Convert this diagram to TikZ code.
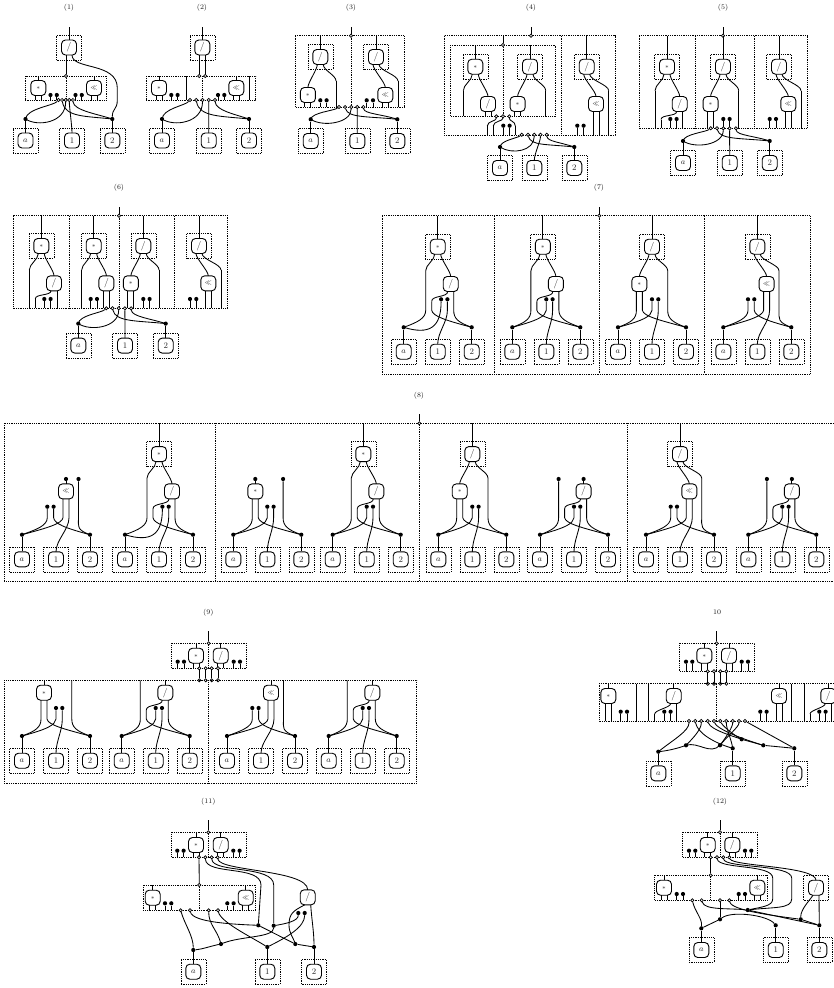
\documentclass[tikz,border=0pt]{standalone}
\usetikzlibrary{calc}
\tikzset{
 wire/.style={draw=black,line width=.85pt},
 pan/.style={draw=black,line width=.6pt,dash pattern=on .9pt off .9pt},
 dbox/.style={pan,shape=rectangle,minimum size=25pt,inner sep=0pt},
 fn/.style={draw=black,line width=.9pt,shape=rectangle,rounded corners=4pt,minimum size=15pt,inner sep=0pt,text=black!85,font=\fontsize{8.5}{9}\selectfont},
 blk/.style={shape=circle,fill=black,draw=none,minimum size=4.2pt,inner sep=0pt},
 opn/.style={shape=circle,fill=white,draw=black,line width=.7pt,minimum size=3.2pt,inner sep=0pt},
 ttl/.style={font=\fontsize{7}{8}\selectfont,text=black!90},
 topend/.style={blk}
}
\newcounter{ttlno}
\newcommand\Lm{{\fontsize{6}{7}\selectfont$*$}}
\newcommand\Ld{{\fontsize{9.5}{10}\selectfont /}}
\newcommand\Ls{{\fontsize{6}{7}\selectfont$\ll$}}
\newcommand\zFn[4]{\node[fn] (#1) at (#2,#3) {#4};
 \coordinate (#1l) at (#2-3,#3+7.5); \coordinate (#1r) at (#2+3,#3+7.5); \coordinate (#1t) at (#2,#3-7.5);}
\newcommand\zDFn[4]{\zFn{#1}{#2}{#3}{#4}\node[dbox] (#1d) at (#2,#3) {};}
\newcommand\zBlk[3]{\node[blk] (#1) at (#2,#3) {};}
\newcommand\zOpn[3]{\node[opn] (#1) at (#2,#3) {};}
\newcommand\zS[3]{\draw[wire] (#1) .. controls +(0,#3) and +(0,-#3) .. (#2);}
\newcommand\zV[2]{\draw[wire] (#1) -- (#2);}
\newcommand\zPanel[4]{\draw[pan] (#1,#2) rectangle (#3,#4);}
\newcommand\zDiv[3]{\draw[pan] (#1,#2) -- (#1,#3);}
\newcommand\zTitle[3]{\stepcounter{ttlno}\node[ttl] (ttl\arabic{ttlno}) at (#1,#2) {#3};}
% top terminal: open dot on a panel edge and free wire above it
\newcommand\zHead[3]{\coordinate (hd) at (#1,#3); \zOpn{ho}{#1}{#2}\zV{hd}{ho}}
\newcommand\zTopIn[2]{\coordinate (tt) at (#1,\vT); \zV{tt}{#2}}
\newcommand\zPair[1]{\zBlk{q1}{#1}{\vD}\zBlk{q2}{#1+6.3}{\vD}\coordinate (q1e) at (#1,\vB);\coordinate (q2e) at (#1+6.3,\vB);\zV{q1}{q1e}\zV{q2}{q2e}}
\newcommand\zStem[2]{\coordinate (s1) at (#2,\vA+24); \coordinate (s2) at (#2,\vB); \zS{#1}{s1}{6}\zV{s1}{s2}}
\newcommand\zOut[2]{\coordinate (oe) at (#2,\vB); \zV{#1}{oe}}
\newcommand\zFull[1]{\coordinate (fa) at (#1,\vT);\coordinate (fb) at (#1,\vB);\zV{fa}{fb}}
% box inside a panel: input to panel top, two outputs to panel bottom
\newcommand\zIn[3]{\zFn{w}{#1}{#2}{#3}\zTopIn{#1}{wt}\zOut{wl}{#1-3}\zOut{wr}{#1+3}}
\newcommand\zBent[3]{\zFn{w}{#1}{#2}{\Ld}\zTopIn{#1}{wt}\coordinate (b1) at (#3,\vB-7);\coordinate (b2) at (#3,\vB);\zS{wl}{b1}{4}\zV{b1}{b2}\zOut{wr}{#1+3}}
% panel terms
\newcommand\zMDhead[1]{\zDFn{u}{#1}{\vA}{\Lm}\zTopIn{#1}{ut}\zStem{ul}{#1-12}\zFn{v}{#1+12.7}{\vC}{\Ld}\zS{ur}{vt}{5}}
\newcommand\zMDb[1]{\zMDhead{#1}\coordinate (e1) at (#1-6,\vC+15.5);\coordinate (e2) at (#1-6,\vB);\zS{vl}{e1}{5}\zV{e1}{e2}\zOut{vr}{#1+15.7}}
\newcommand\zMDs[1]{\zMDhead{#1}\zOut{vl}{#1+9.7}\zOut{vr}{#1+15.7}}
\newcommand\zDM[1]{\zDFn{u}{#1}{\vA}{\Ld}\zTopIn{#1}{ut}\zFn{v}{#1-12.4}{\vC}{\Lm}\zS{ul}{vt}{5}\zStem{ur}{#1+15.7}\zOut{vl}{#1-15.4}\zOut{vr}{#1-9.4}}
\newcommand\zDS[1]{\zDFn{u}{#1}{\vA}{\Ld}\zTopIn{#1}{ut}\zFn{v}{#1+9.3}{\vC}{\Ls}\zS{ul}{vt}{5}\zStem{ur}{#1+22}\zOut{vl}{#1+6.3}\zOut{vr}{#1+12.3}}
% crossing of a, 1, 2 under a panel
\newcommand\zCross[8]{%
 \zOpn{d1}{#1}{#3}\zOpn{d2}{#1+#2}{#3}\zOpn{d3}{#1+2*#2}{#3}\zOpn{d4}{#1+3*#2}{#3}\zOpn{d5}{#1+4*#2}{#3}
 \zBlk{A}{#4}{#3+#7}\zBlk{B}{#5}{#3+#7}
 \zDFn{ka}{#4}{#3+#7+#8}{$a$}\zDFn{kb}{#6}{#3+#7+#8}{1}\zDFn{kc}{#5}{#3+#7+#8}{2}
 \zV{A}{ka}\zV{B}{kc}\zS{d4}{kbt}{7}
 \draw[wire] (A.center) .. controls +(1,-.55*#7) and +(-5,.3*#7) .. (d1);
 \draw[wire] (d3) .. controls +(0,#7+4) and +(12,8) .. (A.center);
 \draw[wire] (d2) .. controls +(3,.9*#7) and +(-28,-3) .. (B.center);
 \draw[wire] (d5) .. controls +(1,.55*#7) and +(-15,-5) .. (B.center);
}
% full terms over a, 1, 2
\newcommand\zSetY[1]{\def\vY{#1}\def\vA{#1-80.6}\def\vC{#1-43.3}\def\vD{#1-28}\def\vU{#1-55.7}}
\newcommand\zTrio[1]{\zBlk{A}{#1-34}{\vY}\zBlk{B}{#1+34}{\vY}
 \zDFn{ka}{#1-34}{\vY+\vK}{$a$}\zDFn{kb}{#1}{\vY+\vK}{1}\zDFn{kc}{#1+34}{\vY+\vK}{2}
 \zV{A}{ka}\zV{B}{kc}\coordinate (bd) at (0,\vY-17);}
\newcommand\zFan{%
 \draw[wire] (p1) -- (p1 |- bd) .. controls +(0,8) and +(14,-5) .. (A.center);
 \draw[wire] (p2) -- (p2 |- bd) .. controls +(1,6) and +(-26,-7) .. (B.center);
 \draw[wire] (p4) -- (p4 |- bd) .. controls +(0,12) and +(0,-12) .. (kbt);
 \draw[wire] (p5) -- (p5 |- bd) .. controls +(0,8) and +(-14,-5) .. (B.center);}
\newcommand\zPthree{\draw[wire] (p3) -- (p3 |- bd) .. controls +(-1,6) and +(26,-7) .. (A.center);}
\newcommand\zSwoop{\draw[wire] (p3) .. controls +(0,28) and +(26,8) .. (A.center);}
\newcommand\zDots[2]{\zBlk{p3}{#1}{\vD}\zBlk{p4}{#2}{\vD}}
\newcommand\zDivOut[1]{\zS{vl}{p2}{6}}
% #1 x of the star box, #2 centre c
\newcommand\zMDfull[2]{\zTrio{#2}\zDFn{u}{#1}{\vA}{\Lm}\zTopIn{#1}{ut}\zFn{v}{#1+13}{\vC}{\Ld}\zS{ur}{vt}{5}
 \coordinate (p1) at (#1-12,\vA+24);\zS{ul}{p1}{6}
 \coordinate (p2) at (#1-6,\vY-26);\zDivOut{}
 \zDots{#1+3.4}{#1+9.7}\coordinate (p5) at (vr);\zFan}
\newcommand\zTa[1]{\zMDfull{#1}{#1}\zSwoop}
\newcommand\zTb[1]{\zMDfull{#1-3.4}{#1}\zPthree}
\newcommand\zTc[1]{\zTrio{#1}\zDFn{u}{#1}{\vA}{\Ld}\zTopIn{#1}{ut}\zFn{v}{#1-12.6}{\vC}{\Lm}\zS{ul}{vt}{5}
 \coordinate (p1) at (vl);\coordinate (p2) at (vr);\zDots{#1}{#1+6.3}
 \coordinate (p5) at (#1+15.7,\vA+24);\zS{ur}{p5}{6}\zFan\zPthree}
\newcommand\zTd[1]{\zTrio{#1}\zDFn{u}{#1}{\vA}{\Ld}\zTopIn{#1}{ut}\zFn{v}{#1+9.3}{\vC}{\Ls}\zS{ul}{vt}{5}
 \coordinate (p5) at (#1+21.7,\vA+24);\zS{ur}{p5}{6}
 \zBlk{p1}{#1-9.3}{\vD}\zBlk{p2}{#1-3}{\vD}\coordinate (p3) at (vl);\coordinate (p4) at (vr);\zFan\zPthree}
\newcommand\zTE[2]{\node[topend] (#1) at (#2,\vU) {};}
\newcommand\zUa[1]{\zTrio{#1}\zFn{v}{#1+10}{\vC}{\Ls}\zTE{te}{#1+10}\zV{te}{vt}\zTE{p5}{#1+22.5}
 \zBlk{p1}{#1-8.7}{\vD}\zBlk{p2}{#1-2.4}{\vD}\coordinate (p3) at (vl);\coordinate (p4) at (vr);\zFan\zPthree}
\newcommand\zUb[1]{\zTrio{#1}\zFn{v}{#1-12}{\vC}{\Lm}\zTE{te}{#1-12}\zV{te}{vt}\zTE{p5}{#1+15.8}
 \coordinate (p1) at (vl);\coordinate (p2) at (vr);\zDots{#1}{#1+6.3}\zFan\zPthree}
\newcommand\zUc[1]{\zTrio{#1}\zFn{v}{#1+9.6}{\vC}{\Ld}\zTE{te}{#1+9.6}\zV{te}{vt}\zTE{p1}{#1-15.4}
 \coordinate (p2) at (#1-9.4,\vY-26);\zDivOut{}\zDots{#1}{#1+6.3}\coordinate (p5) at (vr);\zFan\zPthree}
\begin{document}
\begin{tikzpicture}[x=1pt,y=-1pt]
\useasboundingbox (0,0) rectangle (834,988);
\fill[white] (0,0) rectangle (834,988);
% ---------- (1)
\zTitle{69}{8}{(1)}
\coordinate (tp) at (69,27);\zDFn{f}{69}{47.5}{\Ld}\zV{tp}{ft}
\zPanel{25.3}{76}{106.3}{100}\zDiv{66}{76}{100}
\zOpn{o1}{66}{76}\zV{fl}{o1}
\def\vT{76}\def\vB{100}\def\vD{95}
\zIn{38.3}{88}{\Lm}\zPair{50.5}\zPair{75.5}\zIn{94}{88}{\Ls}
\zCross{58.5}{3.6}{100}{25.5}{112.3}{72}{19}{21.5}
\coordinate (r1) at (117.3,88);\coordinate (r2) at (117.3,100);
\draw[wire] (fr) .. controls (72,70) and (117.3,62) .. (r1) -- (r2) .. controls (117.3,110) and (112.3,108) .. (B);
% ---------- (2)
\zTitle{202}{8}{(2)}
\coordinate (tp) at (202.3,27);\zDFn{f}{202.3}{47.5}{\Ld}\zV{tp}{ft}
\zPanel{146.3}{76}{255.7}{100}\zDiv{202.3}{76}{100}
\zOpn{o1}{199.3}{76}\zOpn{o2}{205.3}{76}\zV{fl}{o1}\zV{fr}{o2}
\zIn{159}{88}{\Lm}\zPair{171.3}\zFull{186.7}\zPair{218}\zIn{236.3}{88}{\Ls}\zFull{249}
\zCross{190}{6.25}{100}{162}{249}{208.7}{19}{21.5}
% ---------- (3)
\zTitle{351}{8}{(3)}
\zPanel{295.3}{35.7}{404.3}{107}\zDiv{351}{35.7}{107}
\zHead{351}{35.7}{27}
\def\vT{35.7}\def\vA{57}\def\vC{95}\def\vB{107}\def\vD{100.3}
\zDM{320.3}\zPair{320.3}\zDS{376}\zPair{366.7}
\zCross{339}{6.1}{107}{310.7}{397.3}{357.3}{12.3}{21.7}
% ---------- (4)
\zTitle{531}{8}{(4)}
\zPanel{444.3}{35.7}{615}{135}\zDiv{561.7}{35.7}{135}
\zPanel{450.3}{45}{555.7}{116.3}\zDiv{503}{45}{116.3}
\zHead{531}{35.7}{27}
\zHead{503}{45}{35.7}
\def\vT{45}\def\vA{66.7}\def\vC{104}\def\vB{116.3}
\zMDs{475.3}\zDM{530}
\zOpn{i1}{496.3}{116.3}\zOpn{i2}{503}{116.3}\zOpn{i3}{509.3}{116.3}
\coordinate (j1) at (487.3,126);\coordinate (j1e) at (487.3,135);
\coordinate (j2) at (493.3,126);\coordinate (j2e) at (493.3,135);
\coordinate (j3) at (515.3,126);\coordinate (j3e) at (515.3,135);
\zS{i1}{j1}{5}\zV{j1}{j1e}\zS{i2}{j2}{5}\zV{j2}{j2e}\zS{i3}{j3}{5}\zV{j3}{j3e}
\def\vB{135}\def\vD{125.7}\zPair{503.3}
\def\vT{35.7}\zDS{586.7}\zPair{577.3}
\zCross{521.7}{6.25}{134.7}{500}{574.3}{534.3}{12.3}{21}
% ---------- (5)
\zTitle{723}{8}{(5)}
\zPanel{639.3}{35.7}{807.3}{128.3}\zDiv{695.3}{35.7}{128.3}\zDiv{754.3}{35.7}{128.3}
\zHead{723}{35.7}{27}
\def\vT{35.7}\def\vA{66.7}\def\vC{104}\def\vB{128.3}\def\vD{119}
\zMDb{667}\zPair{670.3}\zDM{723}\zPair{723.3}\zDS{779}\zPair{769.7}
\zCross{710.7}{6.3}{128.3}{683}{769.7}{729.7}{12.7}{22}
% ---------- (6)
\zTitle{119}{187.5}{(6)}
\zPanel{13.3}{215.7}{227.7}{308.3}\zDiv{69.3}{215.7}{308.3}\zDiv{119}{215.7}{308.3}\zDiv{174.3}{215.7}{308.3}
\zHead{119}{215.7}{207}
\def\vT{215.7}\def\vA{246}\def\vC{283.3}\def\vB{308.3}\def\vD{299}
\zMDb{41.3}\zPair{44.3}\zMDs{93.7}\zPair{90.7}\zDM{143.3}\zPair{143.3}\zDS{199}\zPair{190}
\zCross{106.3}{6.2}{308.3}{78.3}{165.7}{125}{15.3}{22}
% ---------- (7)
\zTitle{599}{187.5}{(7)}
\zPanel{382.3}{215.7}{810.3}{374}\zDiv{494}{215.7}{374}\zDiv{599.3}{215.7}{374}\zDiv{704.7}{215.7}{374}
\zHead{599.3}{215.7}{207}
\def\vT{215.7}\def\vK{24.4}\zSetY{327.3}
\zTa{437.7}\zTb{546.3}\zTc{652}\zTd{757.3}
% ---------- (8)
\zTitle{419}{395.5}{(8)}
\draw[pan] (834,423.3) -- (4,423.3) -- (4,581) -- (834,581);
\zDiv{215}{423.3}{581}\zDiv{419.3}{423.3}{581}\zDiv{627}{423.3}{581}
\zHead{419.3}{423.3}{414}
\def\vT{423.3}\def\vK{24.6}\zSetY{534.7}
\zUa{56}\zTa{159}\zUb{267.3}\zTb{366.7}\zTc{472.3}\zUc{574}\zTd{680}\zUc{782.3}
% ---------- (9)
\zTitle{208.3}{612.7}{(9)}
\zPanel{171.3}{643.3}{246.3}{668.3}\zDiv{208.7}{643.3}{668.3}
\zHead{208.7}{643.3}{631}
\def\vT{643.3}\def\vB{668.3}\def\vD{661.7}
\zIn{196}{655.7}{\Lm}\zIn{220.7}{655.7}{\Ld}\zPair{177.7}\zPair{233.7}
\zOpn{g1}{199.3}{668.3}\zOpn{g2}{205.7}{668.3}\zOpn{g3}{211.7}{668.3}\zOpn{g4}{218}{668.3}
\zOpn{h1}{199.3}{680.3}\zOpn{h2}{205.7}{680.3}\zOpn{h3}{211.7}{680.3}\zOpn{h4}{218}{680.3}
\zV{g1}{h1}\zV{g2}{h2}\zV{g3}{h3}\zV{g4}{h4}
\zPanel{4}{680.3}{416.7}{783}\zDiv{208.7}{680.3}{783}
\tikzset{topend/.style={shape=coordinate}}
\def\vT{680.3}\def\vK{24.7}\zSetY{736}\def\vU{680.3}
\zUb{56}\zUc{155.7}\zUa{261}\zUc{362.7}
% ---------- 10
\zTitle{717}{612.3}{10}
\zPanel{679.3}{643.3}{754.7}{671.3}\zDiv{716.7}{643.3}{671.3}
\zHead{716.7}{643.3}{631}
\def\vT{643.3}\def\vB{671.3}\def\vD{661.7}
\zIn{704.3}{655.7}{\Lm}\zIn{729}{655.7}{\Ld}\zPair{686}\zPair{741.7}
\zOpn{g1}{707.7}{671.3}\zOpn{g2}{714}{671.3}\zOpn{g3}{720.3}{671.3}\zOpn{g4}{726.3}{671.3}
\zOpn{h1}{707.7}{683.7}\zOpn{h2}{714}{683.7}\zOpn{h3}{720.3}{683.7}\zOpn{h4}{726.3}{683.7}
\zV{g1}{h1}\zV{g2}{h2}\zV{g3}{h3}\zV{g4}{h4}
\draw[pan] (834,683.7) -- (599,683.7) -- (599,721) -- (834,721);
\zDiv{716.7}{683.7}{721}
\def\vT{683.7}\def\vB{721}\def\vD{711.7}
\zIn{608.3}{696}{\Lm}\zPair{620.7}\zFull{636.3}\zFull{648.7}
\zBent{673.7}{696}{654.7}\zPair{664.3}
\zIn{779}{696}{\Ls}\zPair{760.3}\zFull{791.7}\zFull{804}
\zBent{828.3}{696}{810}\zPair{819.3}
\zOpn{e1}{689}{721}\zOpn{e2}{695.3}{721}\zOpn{e3}{701.3}{721}\zOpn{e4}{707.7}{721}\zOpn{e5}{714}{721}
\zOpn{e6}{720.3}{721}\zOpn{e7}{726.3}{721}\zOpn{e8}{732.7}{721}\zOpn{e9}{739}{721}\zOpn{e10}{745}{721}
\zBlk{Da}{658.3}{751.7}\zBlk{Db}{686}{745.3}\zBlk{Dc}{720}{745.3}\zBlk{Dd}{732.7}{748.3}
\zBlk{De}{741.7}{739.3}\zBlk{Df}{763.3}{745.3}\zBlk{Dg}{794.3}{748.3}
\zDFn{ka}{658.3}{773.3}{$a$}\zDFn{kb}{732.7}{773.3}{1}\zDFn{kc}{794.3}{773.3}{2}
\zV{Da}{ka}\zV{Dd}{kb}\zV{Dg}{kc}
\draw[wire] (e1) .. controls +(0,10) and +(15,-12) .. (Da.center);
\draw[wire] (Da.center) .. controls +(10,-1) and +(-8,3) .. (Db.center);
\draw[wire] (e3) .. controls +(0,8) and +(8,-8) .. (Db.center);
\draw[wire] (Db.center) .. controls +(12,-4) and +(-10,10) .. (Dc.center);
\draw[wire] (e9) .. controls +(0,6) and +(6,-8) .. (Dc.center);
\draw[wire] (e8) .. controls +(0,6) and +(6,-8) .. (Dc.center);
\draw[wire] (e2) .. controls +(2,12) and +(-18,-5) .. (Dd.center);
\draw[wire] (e7) .. controls +(0,8) and +(-1,-8) .. (Dd.center);
\draw[wire] (e4) .. controls +(3,9) and +(-8,-3) .. (De.center);
\draw[wire] (e6) .. controls +(3,6) and +(-6,-3) .. (De.center);
\draw[wire] (e5) .. controls +(4,10) and +(-10,-3) .. (Df.center);
\zV{De}{Df}\zV{e10}{Dg}\zV{Df}{Dg}
% ---------- (11)
\zTitle{208.3}{801.7}{(11)}
\zPanel{171.3}{832.3}{246.3}{857.3}\zDiv{208.3}{832.3}{857.3}
\zHead{208.3}{832.3}{820}
\def\vT{832.3}\def\vB{857.3}\def\vD{850.7}
\zIn{196}{845}{\Lm}\zIn{220.7}{845}{\Ld}\zPair{177.3}\zPair{233.3}
\zOpn{g1}{199}{857.3}\zOpn{g2}{205.3}{857.3}\zOpn{g3}{211.7}{857.3}\zOpn{g4}{217.7}{857.3}
\zPanel{143.3}{885}{255.7}{910.3}\zDiv{199.3}{885}{910.3}
\zOpn{h1}{199.3}{885}\zV{g1}{h1}
\def\vT{885}\def\vB{910.3}\def\vD{903.3}
\zIn{152.7}{897.7}{\Lm}\zPair{165}\zPair{227.3}\zIn{245.7}{897.7}{\Ls}
\zOpn{m1}{180.7}{910.3}\zOpn{m2}{190}{910.3}\zOpn{m3}{208.7}{910.3}\zOpn{m4}{218}{910.3}
\zFn{v}{307.7}{897.3}{\Ld}
\zBlk{n1}{258.3}{925.3}\zBlk{n2}{273.7}{925.7}\zBlk{n3}{298.3}{913}\zBlk{n4}{304.7}{913}
\zBlk{n5}{221}{944}\zBlk{A}{193.3}{950}\zBlk{C}{267.3}{947}\zBlk{n6}{295.3}{944}\zBlk{B}{314}{947}
\zDFn{ka}{193.3}{971.7}{$a$}\zDFn{kb}{267.3}{971.7}{1}\zDFn{kc}{314}{971.7}{2}
\zV{A}{ka}\zV{C}{kb}\zV{B}{kc}
\draw[wire] (g2) .. controls +(1,18) and +(0,-20) .. (261,885) -- (n1);
\draw[wire] (g3) .. controls +(1,16) and +(0,-20) .. (273.7,885) -- (n2);
\draw[wire] (g4) .. controls +(2,14) and +(0,-20) .. (vt);
\draw[wire] (vl) .. controls +(-11,6) and +(0,-12) .. (289,925) .. controls +(0,8) and +(-2,-6) .. (n6);
\draw[wire] (vr) .. controls +(1,15) and +(0,-15) .. (B);
\draw[wire] (m1) .. controls +(4,14) and +(0,-14) .. (A);
\draw[wire] (m2) .. controls +(3,12) and +(-25,-1) .. (n1);
\zV{n1}{n6}\zV{n6}{B}
\draw[wire] (m3) .. controls +(0,14) and +(-4,-14) .. (n5);
\draw[wire] (m4) .. controls +(3,12) and +(-16,-10) .. (C);
\draw[wire] (A) .. controls +(10,-1) and +(-10,2) .. (n5);
\draw[wire] (n5) .. controls +(20,-8) and +(0,12) .. (n2);
\draw[wire] (C) .. controls +(20,-10) and +(0,14) .. (n4);
\draw[wire] (n2) .. controls +(12,-2) and +(0,8) .. (n3);
% ---------- (12)
\zTitle{720}{801.7}{(12)}
\zPanel{682.7}{832.3}{757.3}{857.3}\zDiv{720}{832.3}{857.3}
\zHead{720}{832.3}{820}
\def\vT{832.3}\def\vB{857.3}\def\vD{850.7}
\zIn{707.7}{845}{\Lm}\zIn{732.3}{845}{\Ld}\zPair{689}\zPair{745}
\zOpn{g1}{710.7}{857.3}\zOpn{g2}{717}{857.3}\zOpn{g3}{723.3}{857.3}\zOpn{g4}{729.3}{857.3}
\zPanel{654.7}{875.3}{767}{900.3}\zDiv{710.7}{875.3}{900.3}
\zOpn{h1}{710.7}{875.3}\zV{g1}{h1}
\def\vT{875.3}\def\vB{900.3}\def\vD{894}
\zIn{664}{887.7}{\Lm}\zPair{676.7}\zPair{738.7}\zIn{757.3}{887.7}{\Ls}
\zOpn{m1}{692.3}{900.3}\zOpn{m2}{701.7}{900.3}\zOpn{m3}{720}{900.3}\zOpn{m4}{729.3}{900.3}
\zDFn{v}{816}{887.7}{\Ld}
\zBlk{n1}{747.7}{910}\zBlk{n2}{720}{919.3}\zBlk{A}{701.3}{928.3}\zBlk{C}{775.7}{925.3}\zBlk{n3}{800.7}{919.3}\zBlk{B}{819.3}{925.3}
\zDFn{ka}{701.3}{950}{$a$}\zDFn{kb}{775.7}{950}{1}\zDFn{kc}{819.3}{950}{2}
\zV{A}{ka}\zV{C}{kb}\zV{B}{kc}
\coordinate (y1) at (772.7,878);\coordinate (y2) at (772.7,899);
\coordinate (z1) at (791.7,878);\coordinate (z2) at (791.7,899);
\draw[wire] (g2) .. controls +(2,12) and +(0,-14) .. (y1) -- (y2) .. controls +(0,7) and +(14,-3) .. (n1);
\draw[wire] (g3) .. controls +(2,11) and +(0,-14) .. (z1) -- (z2) .. controls +(0,10) and +(25,-3) .. (n1);
\draw[wire] (g4) .. controls +(4,9) and +(0,-14) .. (vt);
\draw[wire] (vl) .. controls +(-4,6) and +(0,-10) .. (n3);
\draw[wire] (vr) -- (B);
\draw[wire] (m1) .. controls +(3,12) and +(1,-10) .. (A);
\draw[wire] (m2) .. controls +(3,10) and +(-20,-2) .. (n1);
\zV{m3}{n2}
\draw[wire] (m4) .. controls +(3,10) and +(-30,-4) .. (n3);
\zV{n1}{B}\zV{n3}{B}
\zV{A}{n2}
\draw[wire] (n2) .. controls +(12,-9) and +(-8,-10) .. (C);
\end{tikzpicture}
\end{document}
